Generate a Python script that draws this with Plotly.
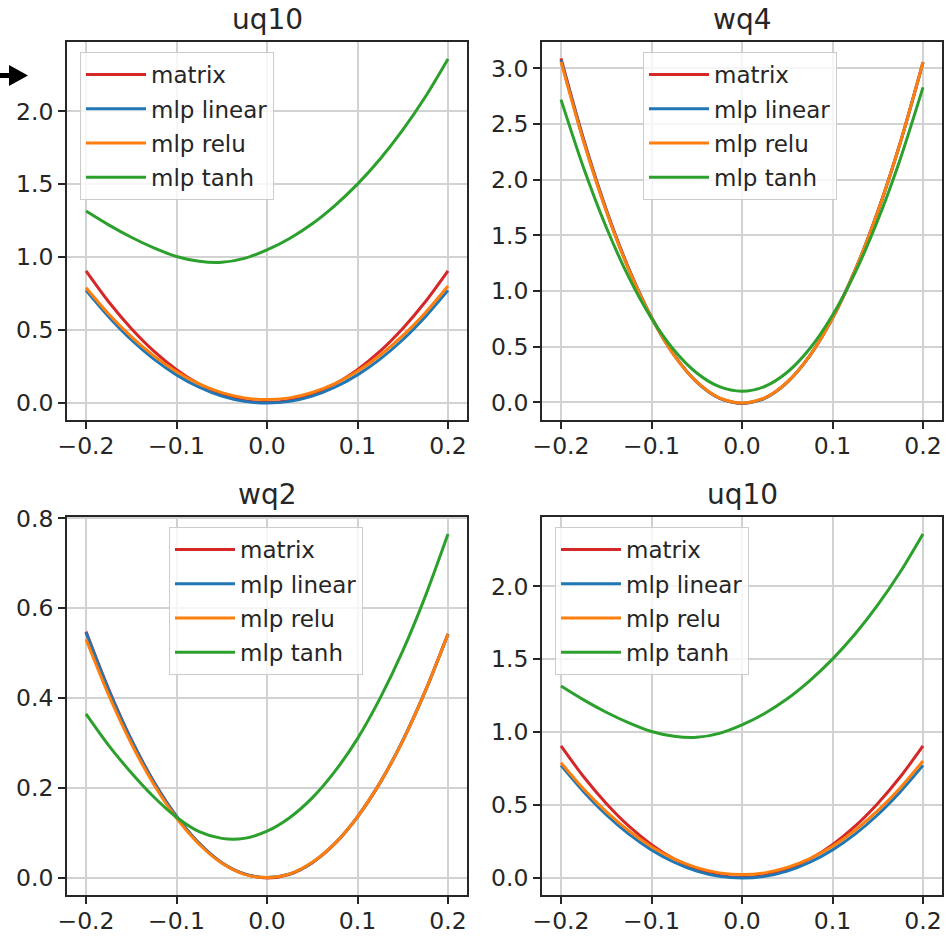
import plotly.graph_objects as go

# ---------------- data ----------------
x_vals = [-0.2, -0.175, -0.15, -0.125, -0.1, -0.075, -0.05, -0.025, 0.0,
          0.025, 0.05, 0.075, 0.1, 0.125, 0.15, 0.175, 0.2]

series_names = ["matrix", "mlp linear", "mlp relu", "mlp tanh"]
series_colors = ["#d62728", "#1f77b4", "#ff7f0e", "#2ca02c"]
subplot_titles = ["uq10", "wq4", "wq2", "uq10"]

uq10_matrix = [0.904, 0.692, 0.509, 0.353, 0.226, 0.127, 0.057, 0.014, 0.000,
               0.014, 0.057, 0.127, 0.226, 0.353, 0.509, 0.692, 0.904]
uq10_linear = [0.770, 0.589, 0.431, 0.298, 0.190, 0.105, 0.044, 0.008, -0.004,
               0.008, 0.044, 0.105, 0.190, 0.298, 0.431, 0.589, 0.770]
uq10_relu = [0.788, 0.608, 0.452, 0.320, 0.212, 0.128, 0.068, 0.032, 0.020,
             0.032, 0.069, 0.130, 0.215, 0.325, 0.459, 0.617, 0.800]
uq10_tanh = [1.315, 1.220, 1.135, 1.062, 1.003, 0.970, 0.963, 0.990, 1.048,
             1.127, 1.228, 1.353, 1.500, 1.672, 1.872, 2.100, 2.360]

wq4_matrix = [3.090, 2.364, 1.734, 1.201, 0.765, 0.426, 0.184, 0.038, -0.010,
              0.038, 0.182, 0.421, 0.757, 1.188, 1.716, 2.339, 3.058]
wq4_linear = [3.075, 2.352, 1.725, 1.195, 0.762, 0.424, 0.183, 0.038, -0.008,
              0.037, 0.181, 0.420, 0.755, 1.186, 1.712, 2.334, 3.050]
wq4_relu = [3.060, 2.342, 1.718, 1.191, 0.760, 0.423, 0.184, 0.040, -0.005,
            0.040, 0.183, 0.421, 0.756, 1.187, 1.713, 2.336, 3.055]
wq4_tanh = [2.720, 2.106, 1.574, 1.123, 0.755, 0.468, 0.264, 0.141, 0.100,
            0.143, 0.271, 0.484, 0.783, 1.166, 1.636, 2.190, 2.830]

wq2_matrix = [0.548, 0.420, 0.308, 0.214, 0.137, 0.077, 0.034, 0.009, 0.000,
              0.008, 0.034, 0.076, 0.136, 0.212, 0.305, 0.416, 0.543]
wq2_linear = [0.546, 0.418, 0.307, 0.213, 0.137, 0.077, 0.034, 0.009, 0.001,
              0.009, 0.034, 0.077, 0.136, 0.212, 0.306, 0.416, 0.542]
wq2_relu = [0.531, 0.407, 0.299, 0.208, 0.133, 0.075, 0.033, 0.008, 0.001,
            0.009, 0.035, 0.077, 0.136, 0.212, 0.305, 0.416, 0.542]
wq2_tanh = [0.365, 0.295, 0.234, 0.180, 0.135, 0.103, 0.088, 0.088, 0.104,
            0.134, 0.178, 0.237, 0.310, 0.400, 0.505, 0.627, 0.765]

x_tickvals = [-0.2, -0.1, 0.0, 0.1, 0.2]
x_ticktext = ["\u22120.2", "\u22120.1", "0.0", "0.1", "0.2"]
uq10_yticks = [0.0, 0.5, 1.0, 1.5, 2.0]
wq4_yticks = [0.0, 0.5, 1.0, 1.5, 2.0, 2.5, 3.0]
wq2_yticks = [0.0, 0.2, 0.4, 0.6, 0.8]

panels = [
    dict(series=[uq10_matrix, uq10_linear, uq10_relu, uq10_tanh], yticks=uq10_yticks, yrange=[-0.120, 2.476]),
    dict(series=[wq4_matrix, wq4_linear, wq4_relu, wq4_tanh], yticks=wq4_yticks, yrange=[-0.158, 3.238]),
    dict(series=[wq2_matrix, wq2_linear, wq2_relu, wq2_tanh], yticks=wq2_yticks, yrange=[-0.038, 0.803]),
    dict(series=[uq10_matrix, uq10_linear, uq10_relu, uq10_tanh], yticks=uq10_yticks, yrange=[-0.120, 2.476]),
]

# ---------------- layout geometry (pixels) ----------------
W, H = 948, 936
def px_x(p): return p / W
def px_y(p): return 1 - p / H

col_px = [(67, 467), (542, 942)]
row_px = [(42, 420), (517, 895)]
legend_px = [(80, 52), (643, 52), (169, 527), (555, 527)]

FONT = "DejaVu Sans"
TXT = "#262626"
TICK_SIZE = 23.5
LEGEND_SIZE = 23

fig = go.Figure()
layout = dict(
    width=W, height=H, margin=dict(l=0, r=0, t=0, b=0, autoexpand=False),
    paper_bgcolor="white", plot_bgcolor="white",
    font=dict(family=FONT, color=TXT, size=22),
    showlegend=True, annotations=[], shapes=[],
)

for i, panel in enumerate(panels):
    r, c = divmod(i, 2)
    ax = "" if i == 0 else str(i + 1)
    leg = "legend" if i == 0 else "legend" + str(i + 1)
    for name, color, ys in zip(series_names, series_colors, panel["series"]):
        fig.add_trace(go.Scatter(
            x=x_vals, y=ys, mode="lines", name=name,
            line=dict(color=color, width=3, shape="spline", smoothing=0.8),
            xaxis="x" + ax, yaxis="y" + ax, legend=leg,
            legendgroup=f"p{i}-{name}",
        ))
    common = dict(
        showline=True, linecolor=TXT, linewidth=1.8, mirror=True,
        ticks="outside", ticklen=7, tickwidth=1.8, tickcolor=TXT,
        showgrid=True, gridcolor="#d2d2d2", gridwidth=1.6, zeroline=False,
        automargin=False,
        tickfont=dict(family=FONT, size=TICK_SIZE, color=TXT),
    )
    layout["xaxis" + ax] = dict(
        common, domain=[px_x(col_px[c][0]), px_x(col_px[c][1])],
        anchor="y" + ax, range=[-0.221, 0.221], ticklabelstandoff=-3,
        tickmode="array", tickvals=x_tickvals, ticktext=x_ticktext,
    )
    layout["yaxis" + ax] = dict(
        common, domain=[px_y(row_px[r][1]), px_y(row_px[r][0])],
        anchor="x" + ax, range=panel["yrange"],
        tickmode="array", tickvals=panel["yticks"],
        ticktext=[f"{v:.1f}" for v in panel["yticks"]],
    )
    lx, ly = legend_px[i]
    layout[leg] = dict(
        x=px_x(lx), y=px_y(ly), xanchor="left", yanchor="top",
        bgcolor="rgba(255,255,255,0.8)", bordercolor="#cccccc", borderwidth=1,
        font=dict(family=FONT, size=LEGEND_SIZE, color=TXT),
        itemwidth=60, traceorder="grouped", tracegroupgap=1.4,
    )
    layout["annotations"].append(dict(
        text=subplot_titles[i], xref="paper", yref="paper",
        x=px_x((col_px[c][0] + col_px[c][1]) / 2), y=px_y(row_px[r][0]),
        xanchor="center", yanchor="bottom", yshift=4, showarrow=False,
        font=dict(family=FONT, size=28, color=TXT),
    ))

# small black arrow marker at the top-left edge
arrow_pts = [(0, 73), (9, 73), (9, 65), (28, 75.5), (9, 86), (9, 78), (0, 78)]
path = "M " + " L ".join(f"{px_x(a):.5f},{px_y(b):.5f}" for a, b in arrow_pts) + " Z"
layout["shapes"].append(dict(type="path", xref="paper", yref="paper", path=path,
                             fillcolor="black", line=dict(width=0)))

fig.update_layout(**layout)
fig.write_html("out.html", config={"displayModeBar": False},
               post_script="document.body.style.margin='0';document.body.style.overflow='hidden';")
